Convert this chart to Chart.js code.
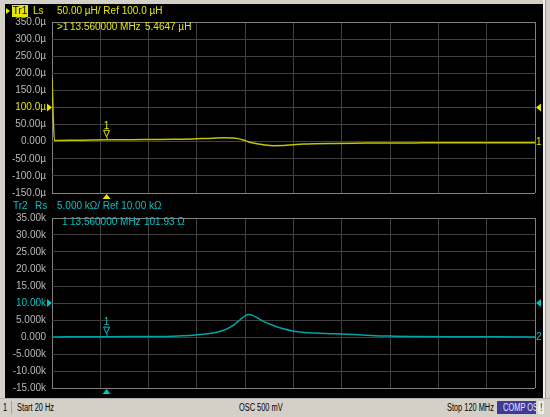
<!DOCTYPE html>
<html><head><meta charset="utf-8">
<script src="https://cdn.jsdelivr.net/npm/chart.js@4.4.1/dist/chart.umd.min.js"></script>
<style>
html,body{margin:0;padding:0}
body{width:550px;height:417px;background:#d4d0c8;position:relative;overflow:hidden;font-family:"Liberation Sans",sans-serif;font-size:10px}
#screen{position:absolute;left:5px;top:4px;width:538px;height:394px;background:#000}
#edge{position:absolute;left:543px;top:0;width:2px;height:398px;background:#f2f2f2}
#edge2{position:absolute;left:545px;top:0;width:1px;height:398px;background:#9a9a9a}
canvas{position:absolute;left:0}
#c1{top:0}
#c2{top:205px}
.t{position:absolute;white-space:pre;line-height:11px;font-size:10px;font-family:"Liberation Sans",sans-serif}
.y{color:#e6e600}
.c{color:#00c4c4}
#tr1{position:absolute;left:12px;top:5px;width:16px;height:12px;background:#e6e600;color:#000;text-align:center;line-height:12px;font-size:10px}
#tri{position:absolute;left:6px;top:8px;width:0;height:0;border-left:4px solid #e6e600;border-top:3px solid transparent;border-bottom:3px solid transparent}
#status{position:absolute;left:0;top:398px;width:550px;height:19px;background:#d4d0c8;border-top:1px solid #b0b0b0}
.s{position:absolute;top:2px;font-family:"Liberation Sans",sans-serif;font-size:10px;color:#000;white-space:pre;line-height:13px;height:13px}
.s span{display:inline-block;transform:scaleX(0.74);transform-origin:0 50%}
#comp{left:497px;width:39px;background:#3c3c98;color:#e8e8ff;text-align:center}
#comp span{transform-origin:50% 50%}
#bang{left:538px;width:6px;background:#ececec;text-align:center}
#bang span{transform-origin:50% 50%}
</style>
</head>
<body>
<div id="screen"></div>
<div id="edge"></div><div id="edge2"></div>
<canvas id="c1" width="550" height="205"></canvas>
<canvas id="c2" width="550" height="195"></canvas>

<div id="tri"></div>
<div id="tr1">Tr1</div>
<div class="t y" style="left:33px;top:5px">Ls</div>
<div class="t y" style="left:57px;top:5px">50.00 µH/ Ref 100.0 µH</div>
<div class="t y" style="left:57px;top:21px">&gt;1</div>
<div class="t y" style="left:70px;top:21px">13.560000 MHz</div>
<div class="t y" style="left:145px;top:21px">5.4647 µH</div>

<div class="t c" style="left:13px;top:200px">Tr2</div>
<div class="t c" style="left:35px;top:200px">Rs</div>
<div class="t c" style="left:57px;top:200px">5.000 kΩ/ Ref 10.00 kΩ</div>
<div class="t c" style="left:62px;top:216px">1</div>
<div class="t c" style="left:70px;top:216px">13.560000 MHz</div>
<div class="t c" style="left:144px;top:216px">101.93 Ω</div>

<div id="status">
  <div class="s" style="left:3px"><span>1</span></div>
  <div class="s" style="left:11px;top:2px;width:1px;height:13px;background:#a0a0a0"></div>
  <div class="s" style="left:17px"><span>Start 20 Hz</span></div>
  <div class="s" style="left:239px"><span>OSC 500 mV</span></div>
  <div class="s" style="left:447px"><span>Stop 120 MHz</span></div>
  <div class="s" id="comp"><span>COMP OS</span></div>
  <div class="s" id="bang"><span>!</span></div>
</div>

<script>
// ---- data ----
const freqMHz  = [0.00002, 0.6, 5, 10, 13.56, 20, 25, 30, 32.5, 35, 37.5, 40, 42.5, 45, 46.25, 47.5, 48.75, 50, 51.25, 52.5, 55, 57.5, 60, 62.5, 65, 70, 75, 80, 85, 90, 100, 110, 120];
const lsMicroH = [185, 3.5, 4.0, 5.0, 5.46, 6.0, 6.5, 7.0, 7.5, 8.2, 9.0, 10.2, 11.2, 11.0, 9.0, 5.0, 0.0, -4.0, -7.0, -9.0, -11.5, -11.2, -9.0, -7.0, -6.0, -5.0, -4.3, -4.0, -3.7, -3.5, -3.2, -3.0, -2.8];
const rsKOhm   = [0.0, 0.03, 0.06, 0.09, 0.102, 0.13, 0.17, 0.25, 0.35, 0.5, 0.8, 1.2, 1.9, 3.4, 4.6, 5.8, 6.6, 6.3, 5.5, 4.6, 3.4, 2.4, 1.7, 1.35, 1.15, 0.95, 0.7, 0.4, 0.25, 0.15, 0.08, 0.05, 0.02];

const xTickValues = [0, 12, 24, 36, 48, 60, 72, 84, 96, 108, 120];
const lsTickValues = [350, 300, 250, 200, 150, 100, 50, 0, -50, -100, -150];
const lsTickLabels = ['350.0µ','300.0µ','250.0µ','200.0µ','150.0µ','100.0µ','50.00µ','0.000','-50.00µ','-100.0µ','-150.0µ'];
const rsTickValues = [35, 30, 25, 20, 15, 10, 5, 0, -5, -10, -15];
const rsTickLabels = ['35.00k','30.00k','25.00k','20.00k','15.00k','10.00k','5.000k','0.000','-5.000k','-10.00k','-15.00k'];

const markerFreqMHz = 13.56;
const lsMarker = 5.4647;
const rsMarker = 0.10193;
const lsRef = 100;
const rsRef = 10;

const deco = {
  id: 'deco',
  afterDatasetsDraw(chart, args, o) {
    const {ctx, chartArea: a, scales: {x, y}} = chart;
    ctx.save();
    ctx.fillStyle = o.color;
    ctx.strokeStyle = o.color;
    const ry = y.getPixelForValue(o.ref);
    ctx.beginPath(); ctx.moveTo(a.left - 5, ry - 4); ctx.lineTo(a.left - 5, ry + 4); ctx.lineTo(a.left, ry); ctx.closePath(); ctx.fill();
    ctx.beginPath(); ctx.moveTo(a.right + 6, ry - 4); ctx.lineTo(a.right + 6, ry + 4); ctx.lineTo(a.right + 1, ry); ctx.closePath(); ctx.fill();
    const mx = x.getPixelForValue(o.markerX);
    ctx.beginPath(); ctx.moveTo(mx - 4, a.bottom + 6); ctx.lineTo(mx + 4, a.bottom + 6); ctx.lineTo(mx, a.bottom + 1); ctx.closePath(); ctx.fill();
    const last = o.values[o.values.length - 1];
    ctx.font = '10px "Liberation Sans"';
    ctx.textBaseline = 'middle';
    ctx.textAlign = 'left';
    ctx.fillText(o.traceNo, a.right + 1, y.getPixelForValue(last));
    const my = y.getPixelForValue(o.markerY);
    ctx.lineWidth = 1;
    ctx.beginPath(); ctx.moveTo(mx - 3, my - 9.5); ctx.lineTo(mx + 3, my - 9.5); ctx.lineTo(mx, my - 3); ctx.closePath(); ctx.stroke();
    ctx.beginPath(); ctx.moveTo(mx + 0.5, my - 3); ctx.lineTo(mx + 0.5, my - 1); ctx.stroke();
    ctx.textAlign = 'center';
    ctx.fillText('1', mx, my - 14);
    ctx.restore();
  }
};

function gridColor(c) {
  return (c.index === 0 || c.index === 10) ? '#808080' : '#404040';
}

function makeChart(id, values, tickValues, tickLabels, refVal, markerY, traceColor, textColor, traceNo, padTop, padBottom) {
  return new Chart(document.getElementById(id), {
    type: 'line',
    data: { datasets: [{
      data: freqMHz.map((f, i) => ({ x: f, y: values[i] })),
      borderColor: traceColor, borderWidth: 1.5, pointRadius: 0,
      cubicInterpolationMode: 'monotone', fill: false
    }]},
    options: {
      responsive: false, animation: false, events: [],
      layout: { padding: { top: padTop, bottom: padBottom, left: 0, right: 15 } },
      plugins: {
        legend: { display: false }, tooltip: { enabled: false },
        deco: { color: textColor, ref: refVal, markerX: markerFreqMHz, markerY: markerY, values: values, traceNo: traceNo }
      },
      scales: {
        x: {
          type: 'linear', min: xTickValues[0], max: xTickValues[xTickValues.length - 1],
          afterBuildTicks(s) { s.ticks = xTickValues.map(v => ({ value: v })); },
          afterFit(s) { s.height = 0; },
          ticks: { display: false },
          grid: { color: gridColor, drawTicks: false },
          border: { display: false }
        },
        y: {
          min: tickValues[tickValues.length - 1], max: tickValues[0],
          afterBuildTicks(s) { s.ticks = tickValues.slice().reverse().map(v => ({ value: v })); },
          afterFit(s) { s.width = 52; },
          ticks: {
            padding: 6,
            color: c => (c.tick && c.tick.value === refVal) ? textColor : '#b8b8b8',
            font: { family: 'Liberation Sans', size: 10 },
            callback: v => { const i = tickValues.indexOf(v); return i < 0 ? '' : tickLabels[i]; }
          },
          grid: { color: gridColor, drawTicks: false },
          border: { display: false }
        }
      }
    },
    plugins: [deco]
  });
}

makeChart('c1', lsMicroH, lsTickValues, lsTickLabels, lsRef, lsMarker, '#c4c400', '#e6e600', '1', 22, 9);
makeChart('c2', rsKOhm, rsTickValues, rsTickLabels, rsRef, rsMarker, '#00a4a8', '#00c4c4', '2', 13, 10);
</script>
</body></html>
